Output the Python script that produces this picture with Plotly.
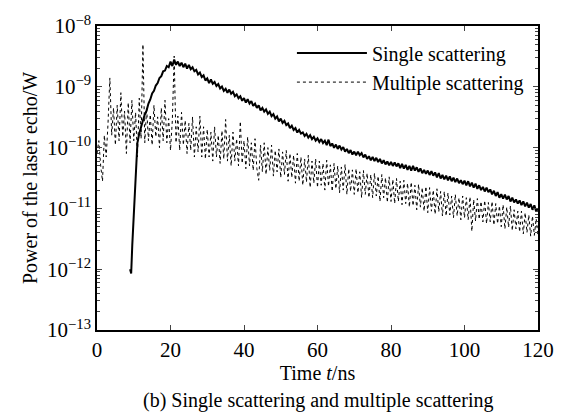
import plotly.graph_objects as go

# Single scattering echo (time in ns, power in W)
t_single = [9.0, 9.3, 9.6, 10.0, 10.2, 10.5, 10.8, 11.0, 11.5, 12.0, 12.5, 13.0, 13.5, 14.0, 14.5,
            15.0, 15.5, 16.0, 16.5, 17.0, 17.5, 18.0, 18.5, 19.0, 19.5, 20.0, 20.5,
            21.0, 21.5, 22.0, 22.5, 23.0, 23.5, 24.0, 24.5, 25.0, 25.5,
            26.0, 26.5, 27.0, 27.5, 28.0, 28.5, 29.0, 29.5, 30.0, 30.5,
            31.0, 31.5, 32.0, 32.5, 33.0, 33.5, 34.0, 34.5, 35.0, 35.5,
            36.0, 36.5, 37.0, 37.5, 38.0, 38.5, 39.0, 39.5, 40.0, 40.5,
            41.0, 41.5, 42.0, 42.5, 43.0, 43.5, 44.0, 44.5, 45.0, 45.5,
            46.0, 46.5, 47.0, 47.5, 48.0, 48.5, 49.0, 49.5, 50.0, 50.5,
            51.0, 51.5, 52.0, 52.5, 53.0, 53.5, 54.0, 54.5, 55.0, 55.5,
            56.0, 56.5, 57.0, 57.5, 58.0, 58.5, 59.0, 59.5, 60.0, 60.5,
            61.0, 61.5, 62.0, 62.5, 63.0, 63.5, 64.0, 64.5, 65.0, 65.5,
            66.0, 66.5, 67.0, 67.5, 68.0, 68.5, 69.0, 69.5, 70.0, 70.5,
            71.0, 71.5, 72.0, 72.5, 73.0, 73.5, 74.0, 74.5, 75.0, 75.5,
            76.0, 76.5, 77.0, 77.5, 78.0, 78.5, 79.0, 79.5, 80.0, 80.5,
            81.0, 81.5, 82.0, 82.5, 83.0, 83.5, 84.0, 84.5, 85.0, 85.5,
            86.0, 86.5, 87.0, 87.5, 88.0, 88.5, 89.0, 89.5, 90.0, 90.5,
            91.0, 91.5, 92.0, 92.5, 93.0, 93.5, 94.0, 94.5, 95.0, 95.5,
            96.0, 96.5, 97.0, 97.5, 98.0, 98.5, 99.0, 99.5, 100.0, 100.5,
            101.0, 101.5, 102.0, 102.5, 103.0, 103.5, 104.0, 104.5, 105.0, 105.5,
            106.0, 106.5, 107.0, 107.5, 108.0, 108.5, 109.0, 109.5, 110.0, 110.5,
            111.0, 111.5, 112.0, 112.5, 113.0, 113.5, 114.0, 114.5, 115.0, 115.5,
            116.0, 116.5, 117.0, 117.5, 118.0, 118.5, 119.0, 119.5, 120.0]
p_single = [1.0e-12, 8.5e-13, 2.5e-12, 7e-12, 1.4e-11, 4e-11, 9e-11, 1.2e-10, 1.7e-10, 2.3e-10,
            2.8e-10, 3.5e-10, 4.1e-10, 5.3e-10, 6.2e-10, 7.8e-10, 8.6e-10, 1.05e-9, 1.15e-9, 1.4e-9,
            1.5e-9, 1.8e-9, 1.85e-9, 2.2e-9, 2.1e-9, 2.6e-9, 2.2e-9,
            2.8e-9, 2.3e-9, 2.6e-9, 2.2e-9, 2.5e-9, 2.1e-9, 2.4e-9, 2.0e-9, 2.3e-9, 1.95e-9,
            2.1e-9, 1.8e-9, 1.9e-9, 1.6e-9, 1.72e-9, 1.45e-9, 1.55e-9, 1.27e-9, 1.38e-9, 1.15e-9,
            1.32e-9, 1.12e-9, 1.2e-9, 1.03e-9, 1.11e-9, 9.4e-10, 1.01e-9, 8.6e-10, 9.3e-10, 8.0e-10,
            9.0e-10, 7.7e-10, 8.3e-10, 7.0e-10, 7.5e-10, 6.5e-10, 7.0e-10, 5.9e-10, 6.5e-10, 5.5e-10,
            6.25e-10, 5.3e-10, 5.8e-10, 4.85e-10, 5.3e-10, 4.5e-10, 4.95e-10, 4.1e-10, 4.5e-10, 3.9e-10,
            4.25e-10, 3.6e-10, 3.9e-10, 3.3e-10, 3.55e-10, 3.0e-10, 3.25e-10, 2.7e-10, 3.0e-10, 2.55e-10,
            2.75e-10, 2.35e-10, 2.5e-10, 2.1e-10, 2.3e-10, 1.95e-10, 2.1e-10, 1.77e-10, 1.95e-10, 1.7e-10,
            1.78e-10, 1.55e-10, 1.68e-10, 1.46e-10, 1.6e-10, 1.38e-10, 1.5e-10, 1.3e-10, 1.42e-10, 1.24e-10,
            1.38e-10, 1.19e-10, 1.3e-10, 1.1e-10, 1.35e-10, 1.06e-10, 1.17e-10, 9.9e-11, 1.12e-10, 9.5e-11,
            1.08e-10, 9.3e-11, 1.02e-10, 8.6e-11, 9.5e-11, 8.1e-11, 9.1e-11, 7.7e-11, 8.6e-11, 7.5e-11,
            8.6e-11, 7.5e-11, 8.1e-11, 6.9e-11, 7.7e-11, 6.5e-11, 7.2e-11, 6.2e-11, 7.0e-11, 6.0e-11,
            6.8e-11, 5.8e-11, 6.5e-11, 5.5e-11, 6.2e-11, 5.3e-11, 5.9e-11, 5.1e-11, 5.8e-11, 5.0e-11,
            5.7e-11, 4.9e-11, 5.5e-11, 4.6e-11, 5.4e-11, 4.5e-11, 5.2e-11, 4.3e-11, 5.0e-11, 4.2e-11,
            5.0e-11, 4.2e-11, 4.75e-11, 4.0e-11, 4.55e-11, 3.8e-11, 4.3e-11, 3.7e-11, 4.2e-11, 3.55e-11,
            4.1e-11, 3.45e-11, 3.9e-11, 3.25e-11, 3.8e-11, 3.1e-11, 3.55e-11, 3.0e-11, 3.45e-11, 2.9e-11,
            3.35e-11, 2.8e-11, 3.2e-11, 2.7e-11, 3.1e-11, 2.6e-11, 2.9e-11, 2.5e-11, 2.85e-11, 2.4e-11,
            2.8e-11, 2.3e-11, 2.65e-11, 2.2e-11, 2.55e-11, 2.1e-11, 2.4e-11, 2.0e-11, 2.25e-11, 1.9e-11,
            2.2e-11, 1.85e-11, 2.05e-11, 1.7e-11, 1.95e-11, 1.6e-11, 1.85e-11, 1.5e-11, 1.72e-11, 1.45e-11,
            1.68e-11, 1.4e-11, 1.6e-11, 1.3e-11, 1.5e-11, 1.25e-11, 1.4e-11, 1.2e-11, 1.35e-11, 1.13e-11,
            1.3e-11, 1.08e-11, 1.24e-11, 1.03e-11, 1.18e-11, 9.5e-12, 1.12e-11, 8.9e-12, 1.0e-11]

# Multiple scattering echo, every 0.5 ns from 0 to 120 ns
t_multi = [0.0, 0.5, 1.0, 1.5, 2.0, 2.5, 3.0, 3.5, 4.0, 4.5, 5.0, 5.5, 6.0, 6.5, 7.0, 7.5, 8.0, 8.5, 9.0, 9.5,
           10.0, 10.5, 11.0, 11.5, 12.0, 12.5, 13.0, 13.5, 14.0, 14.5, 15.0, 15.5, 16.0, 16.5, 17.0, 17.5, 18.0, 18.5, 19.0, 19.5,
           20.0, 20.5, 21.0, 21.5, 22.0, 22.5, 23.0, 23.5, 24.0, 24.5, 25.0, 25.5, 26.0, 26.5, 27.0, 27.5, 28.0, 28.5, 29.0, 29.5,
           30.0, 30.5, 31.0, 31.5, 32.0, 32.5, 33.0, 33.5, 34.0, 34.5, 35.0, 35.5, 36.0, 36.5, 37.0, 37.5, 38.0, 38.5, 39.0, 39.5,
           40.0, 40.5, 41.0, 41.5, 42.0, 42.5, 43.0, 43.5, 44.0, 44.5, 45.0, 45.5, 46.0, 46.5, 47.0, 47.5, 48.0, 48.5, 49.0, 49.5,
           50.0, 50.5, 51.0, 51.5, 52.0, 52.5, 53.0, 53.5, 54.0, 54.5, 55.0, 55.5, 56.0, 56.5, 57.0, 57.5, 58.0, 58.5, 59.0, 59.5,
           60.0, 60.5, 61.0, 61.5, 62.0, 62.5, 63.0, 63.5, 64.0, 64.5, 65.0, 65.5, 66.0, 66.5, 67.0, 67.5, 68.0, 68.5, 69.0, 69.5,
           70.0, 70.5, 71.0, 71.5, 72.0, 72.5, 73.0, 73.5, 74.0, 74.5, 75.0, 75.5, 76.0, 76.5, 77.0, 77.5, 78.0, 78.5, 79.0, 79.5,
           80.0, 80.5, 81.0, 81.5, 82.0, 82.5, 83.0, 83.5, 84.0, 84.5, 85.0, 85.5, 86.0, 86.5, 87.0, 87.5, 88.0, 88.5, 89.0, 89.5,
           90.0, 90.5, 91.0, 91.5, 92.0, 92.5, 93.0, 93.5, 94.0, 94.5, 95.0, 95.5, 96.0, 96.5, 97.0, 97.5, 98.0, 98.5, 99.0, 99.5,
           100.0, 100.5, 101.0, 101.5, 102.0, 102.5, 103.0, 103.5, 104.0, 104.5, 105.0, 105.5, 106.0, 106.5, 107.0, 107.5, 108.0, 108.5, 109.0, 109.5,
           110.0, 110.5, 111.0, 111.5, 112.0, 112.5, 113.0, 113.5, 114.0, 114.5, 115.0, 115.5, 116.0, 116.5, 117.0, 117.5, 118.0, 118.5, 119.0, 119.5,
           120.0]
p_multi = [8e-11, 1.3e-10, 5e-11, 2.8e-11, 1.6e-10, 7e-11, 2.5e-10, 1.4e-9, 1.6e-10, 4.5e-10,
           1.1e-10, 5e-10, 1.3e-10, 8e-10, 1.5e-10, 4e-10, 8e-11, 5.5e-10, 1.2e-10, 6e-10,
           1.3e-10, 3.8e-10, 7e-11, 6.5e-10, 1.4e-10, 5e-9, 1.2e-10, 4.5e-10, 1.3e-10, 3.5e-10,
           1.1e-10, 5e-10, 1.5e-10, 3.2e-10, 1.0e-10, 4.5e-10, 1.3e-10, 6e-10, 1.2e-10, 3e-10,
           9e-11, 2.8e-10, 3.2e-9, 1.2e-10, 3.3e-10, 9e-11, 3.8e-10, 1.1e-10, 2.8e-10, 8e-11,
           2.5e-10, 9e-11, 3.2e-10, 7e-11, 2.2e-10, 8.5e-11, 3.3e-10, 7e-11, 2.2e-10, 6.5e-11,
           2.0e-10, 7e-11, 1.8e-10, 6e-11, 2.2e-10, 7e-11, 1.6e-10, 5.5e-11, 1.9e-10, 6.5e-11,
           2.9e-10, 6e-11, 1.6e-10, 5e-11, 1.8e-10, 6e-11, 1.4e-10, 5e-11, 2.7e-10, 5.5e-11,
           1.3e-10, 4.5e-11, 1.5e-10, 5e-11, 1.2e-10, 4.2e-11, 1.4e-10, 4.5e-11, 2.9e-11, 1.1e-10,
           4e-11, 1.2e-10, 3.6e-11, 1.0e-10, 4.2e-11, 1.1e-10, 3.4e-11, 9e-11, 4e-11, 9.5e-11,
           3.2e-11, 8.5e-11, 3.6e-11, 9e-11, 2.8e-11, 8e-11, 3.2e-11, 7.5e-11, 2.6e-11, 8e-11,
           2.8e-11, 7e-11, 2.4e-11, 6.5e-11, 2.7e-11, 7.5e-11, 2.2e-11, 6e-11, 2.6e-11, 6.5e-11,
           2.2e-11, 6e-11, 2.4e-11, 5.5e-11, 2.0e-11, 6.2e-11, 2.3e-11, 5.2e-11, 1.9e-11, 5.5e-11,
           2.1e-11, 5e-11, 1.8e-11, 4.8e-11, 2.0e-11, 5.3e-11, 1.7e-11, 4.5e-11, 1.9e-11, 4.3e-11,
           1.7e-11, 4.5e-11, 1.8e-11, 4.0e-11, 1.5e-11, 4.2e-11, 1.7e-11, 3.8e-11, 1.5e-11, 3.6e-11,
           1.5e-11, 3.8e-11, 1.6e-11, 3.4e-11, 1.3e-11, 3.6e-11, 1.5e-11, 3.2e-11, 1.25e-11, 3.3e-11,
           1.3e-11, 3.0e-11, 1.2e-11, 3.1e-11, 1.3e-11, 2.8e-11, 1.15e-11, 2.9e-11, 1.2e-11, 2.6e-11,
           1.05e-11, 2.7e-11, 1.1e-11, 2.4e-11, 9.5e-12, 2.5e-11, 1.05e-11, 2.2e-11, 9e-12, 2.3e-11,
           8.5e-12, 2.2e-11, 9e-12, 2.0e-11, 8e-12, 2.1e-11, 8.8e-12, 1.9e-11, 7.5e-12, 1.9e-11,
           7.5e-12, 1.8e-11, 7.8e-12, 1.6e-11, 7e-12, 1.7e-11, 7.5e-12, 1.5e-11, 6.5e-12, 1.6e-11,
           7e-12, 1.5e-11, 6.5e-12, 1.55e-11, 4.2e-12, 1.4e-11, 6.2e-12, 1.45e-11, 6.6e-12, 1.3e-11,
           6e-12, 1.35e-11, 5.6e-12, 1.25e-11, 6e-12, 1.3e-11, 5.3e-12, 1.2e-11, 5.6e-12, 1.1e-11,
           5e-12, 1.15e-11, 4.6e-12, 1.05e-11, 4.9e-12, 1.1e-11, 4.3e-12, 9.5e-12, 4.6e-12, 9e-12,
           4.1e-12, 9e-12, 3.8e-12, 8.5e-12, 4e-12, 7.8e-12, 3.5e-12, 7.5e-12, 3.6e-12, 6.8e-12,
           3.5e-12]

x_ticks = [0, 20, 40, 60, 80, 100, 120]
y_ticks = [1e-13, 1e-12, 1e-11, 1e-10, 1e-9, 1e-8]
y_tick_text = ["10<sup>\u221213</sup>", "10<sup>\u221212</sup>", "10<sup>\u221211</sup>",
               "10<sup>\u221210</sup>", "10<sup>\u22129</sup>", "10<sup>\u22128</sup>"]

font_serif = "Liberation Serif, Times New Roman, serif"

fig = go.Figure()
fig.add_trace(go.Scatter(x=t_single, y=p_single, mode="lines", name="Single scattering",
                         line=dict(color="black", width=2)))
fig.add_trace(go.Scatter(x=t_multi, y=p_multi, mode="lines", name="Multiple scattering",
                         line=dict(color="black", width=1, dash="dot")))

fig.update_layout(
    width=566, height=418,
    margin=dict(l=97, r=21, t=18, b=88),
    paper_bgcolor="white", plot_bgcolor="white",
    font=dict(family=font_serif, size=20, color="black"),
    showlegend=True,
    legend=dict(x=0.442, y=0.975, xanchor="left", yanchor="top",
                bgcolor="rgba(0,0,0,0)", font=dict(size=20), itemwidth=70,
                tracegroupgap=0),
    annotations=[dict(text="(b) Single scattering and multiple scattering",
                      x=0.5, y=-0.231, xref="paper", yref="paper", xanchor="center", yanchor="middle",
                      showarrow=False, font=dict(size=20))],
)
fig.update_xaxes(range=[0, 120], tickvals=x_ticks, ticks="inside", ticklen=5,
                 tickfont=dict(size=21),
                 showline=True, linecolor="black", linewidth=1.5, mirror="ticks",
                 showgrid=False, zeroline=False,
                 title=dict(text="Time <i>t</i>/ns", font=dict(size=20), standoff=4))
fig.update_yaxes(type="log", range=[-13.0005, -7.9995], tickvals=y_ticks, ticktext=y_tick_text,
                 tickfont=dict(size=21),
                 ticks="inside", ticklen=5, showline=True, linecolor="black", linewidth=1.5,
                 mirror="ticks", showgrid=False, zeroline=False,
                 minor=dict(ticks="inside", ticklen=3, dtick="D1", showgrid=False),
                 title=dict(text="Power of the laser echo/W", font=dict(size=20), standoff=4))

# drop the default 8px page margin so the figure sits at the window's corner
fig.write_html("out.html", config={"displayModeBar": False},
               post_script="document.body.style.margin = '0';")
